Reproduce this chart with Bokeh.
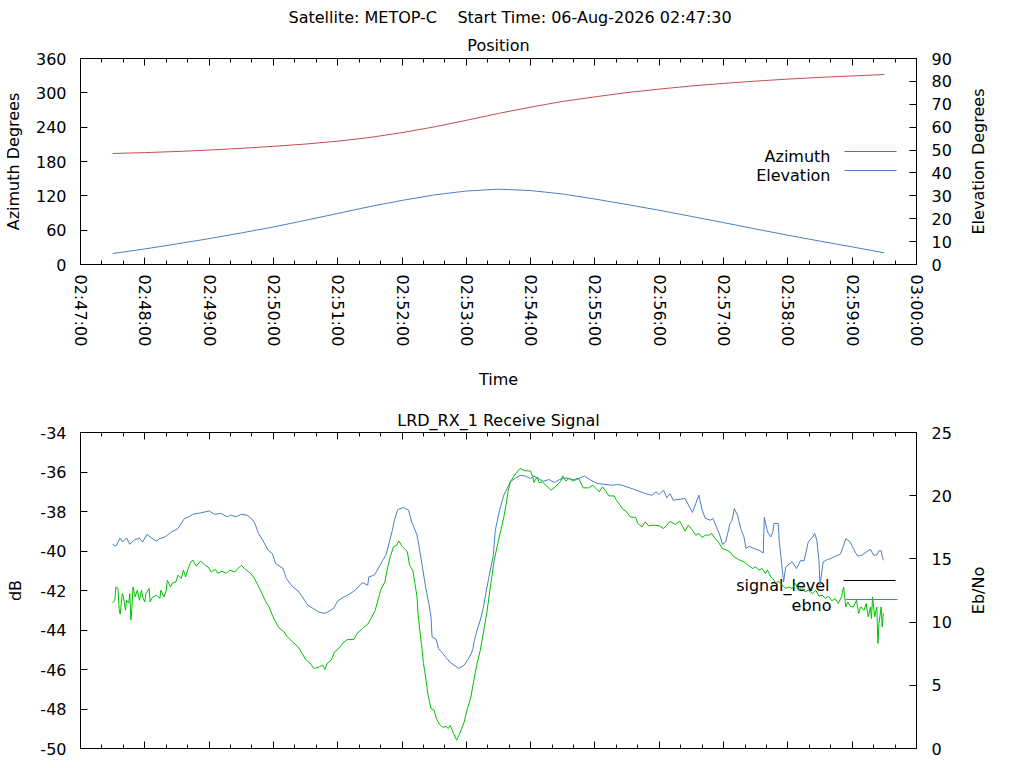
import math
import pandas as pd
from bokeh.plotting import figure
from bokeh.models import (Range1d, LinearAxis, DatetimeAxis, FixedTicker,
                          DatetimeTickFormatter, NumeralTickFormatter, Title, Label, Arrow)
from bokeh.layouts import column, row
from bokeh.embed import file_html
from bokeh.resources import INLINE

# ---------------- data ----------------
satellite = "METOP-C"
start_time_text = "06-Aug-2026 02:47:30"
pass_start = pd.Timestamp("2026-08-06 02:47:30")
axis_start = pd.Timestamp("2026-08-06 02:47:00")
axis_end = pd.Timestamp("2026-08-06 03:00:00")

# position samples: seconds after pass start
pos_t = [0, 30, 60, 90, 120, 150, 180, 210, 240, 270, 300, 330, 360,
         390, 420, 450, 480, 510, 540, 570, 600, 630, 660, 690, 720]
azimuth = [194.0, 195.5, 197.5, 200.0, 203.0, 206.5, 210.5, 215.5, 222.0, 230.5,
           240.5, 252.0, 264.0, 275.0, 285.0, 293.0, 300.5, 306.5, 312.0, 316.5,
           320.5, 324.0, 327.0, 329.5, 332.0]
elevation = [4.8, 6.8, 9.0, 11.3, 13.8, 16.4, 19.3, 22.3, 25.3, 28.0,
             30.4, 32.1, 32.9, 32.3, 30.8, 28.6, 26.2, 23.7, 21.0, 18.3,
             15.5, 12.8, 10.2, 7.7, 5.1]

# receive signal samples: seconds after pass start
sig_t = [0, 3, 7, 9, 13, 16, 20, 25, 28, 32,
         37, 41, 44, 49, 55, 61, 64, 67, 70, 75,
         82, 90, 95, 101, 107, 110, 115, 120, 126, 131,
         133, 136, 140, 145, 149, 152, 159, 162, 168, 173,
         177, 182, 187, 192, 198, 202, 206, 210, 215, 219,
         225, 231, 233, 238, 239, 244, 247, 252, 255, 259,
         261, 263, 266, 271, 276, 279, 281, 284, 286, 289,
         292, 295, 297, 298, 302, 304, 308, 311, 315, 323,
         328, 333, 336, 337, 340, 343, 346, 348, 352, 355,
         357, 361, 365, 368, 371, 376, 381, 385, 390, 393,
         398, 402, 407, 412, 417, 423, 427, 432, 440, 446,
         452, 458, 466, 471, 475, 480, 486, 497, 503, 507,
         510, 514, 517, 520, 523, 534, 541, 544, 547, 550,
         553, 558, 560, 562, 566, 569, 572, 576, 578, 580,
         583, 586, 589, 591, 594, 598, 603, 607, 608, 611,
         614, 616, 617, 621, 622, 626, 628, 631, 634, 638,
         642, 645, 647, 649, 653, 655, 657, 659, 660, 663,
         667, 670, 673, 679, 682, 684, 688, 691, 695, 699,
         703, 707, 710, 713, 715, 717, 719]
signal_level = [-39.66, -39.76, -39.34, -39.54, -39.34, -39.66, -39.45, -39.34, -39.54, -39.16,
                -39.37, -39.50, -39.37, -39.29, -39.03, -38.86, -38.61, -38.35, -38.30, -38.14,
                -38.07, -37.97, -38.14, -38.10, -38.27, -38.18, -38.27, -38.14, -38.20, -38.44,
                -38.64, -39.11, -39.45, -39.96, -40.13, -40.63, -40.89, -41.39, -41.82, -42.02,
                -42.32, -42.74, -42.91, -43.08, -43.16, -43.05, -42.91, -42.53, -42.35, -42.24,
                -42.04, -41.73, -41.60, -41.73, -41.31, -41.23, -40.97, -40.47, -40.21, -39.37,
                -38.95, -38.41, -37.90, -37.80, -37.93, -38.53, -38.78, -39.20, -39.82, -40.81,
                -41.82, -42.66, -43.34, -44.35, -44.48, -44.94, -45.19, -45.39, -45.65, -45.95,
                -45.78, -45.36, -45.00, -44.65, -44.01, -43.50, -42.83, -42.19, -41.06, -40.30,
                -38.95, -37.93, -37.17, -36.84, -36.50, -36.30, -36.16, -36.21, -36.33, -36.20,
                -36.36, -36.47, -36.38, -36.53, -36.38, -36.30, -36.36, -36.41, -36.20, -36.41,
                -36.58, -36.62, -36.67, -36.63, -36.67, -36.76, -36.87, -37.09, -37.18, -37.01,
                -37.14, -36.92, -37.31, -37.09, -37.43, -37.34, -38.05, -37.60, -37.17, -37.93,
                -38.35, -38.44, -38.35, -38.61, -39.11, -39.66, -39.54, -38.61, -38.44, -37.85,
                -38.19, -38.86, -39.29, -39.87, -39.76, -39.87, -39.96, -40.10, -38.30, -39.03,
                -39.29, -39.03, -38.61, -38.61, -39.54, -41.56, -40.81, -40.67, -40.55, -40.89,
                -40.47, -40.50, -40.05, -39.54, -39.29, -39.11, -39.45, -40.47, -41.73, -40.55,
                -40.43, -40.38, -40.30, -40.16, -39.71, -39.37, -39.54, -39.87, -40.26, -40.21,
                -40.05, -39.91, -40.21, -40.21, -39.99, -39.99, -40.47]

ebno_t = [0, 2, 3, 5, 6, 7, 9, 10, 12, 13,
          15, 16, 17, 18, 19, 21, 23, 25, 27, 28,
          30, 31, 34, 35, 37, 41, 44, 45, 48, 50,
          51, 54, 56, 59, 61, 64, 66, 68, 71, 73,
          75, 78, 82, 86, 89, 92, 96, 98, 102, 106,
          109, 114, 117, 120, 123, 127, 131, 134, 137, 140,
          143, 146, 149, 152, 155, 160, 163, 168, 173, 177,
          180, 184, 188, 193, 196, 198, 200, 204, 207, 210,
          215, 219, 225, 228, 233, 238, 241, 245, 248, 250,
          254, 256, 259, 262, 265, 267, 270, 273, 275, 277,
          280, 282, 284, 285, 288, 290, 292, 294, 297, 300,
          302, 305, 308, 311, 313, 315, 318, 321, 324, 328,
          331, 334, 337, 340, 343, 346, 349, 352, 356, 360,
          362, 365, 367, 369, 371, 374, 378, 380, 384, 390,
          392, 393, 396, 398, 401, 404, 409, 413, 418, 420,
          423, 426, 429, 433, 435, 437, 439, 444, 448, 451,
          454, 457, 460, 463, 468, 470, 473, 476, 479, 483,
          488, 490, 494, 497, 500, 505, 510, 514, 517, 520,
          525, 529, 532, 534, 537, 541, 544, 547, 550, 553,
          556, 559, 562, 565, 569, 573, 576, 579, 584, 589,
          593, 597, 600, 603, 606, 609, 611, 614, 617, 619,
          621, 625, 628, 631, 634, 637, 640, 643, 646, 649,
          653, 656, 659, 662, 665, 668, 671, 674, 677, 680,
          682, 684, 686, 688, 691, 694, 696, 698, 701, 703,
          705, 707, 708, 709, 711, 713, 714, 715, 717, 718,
          719]
ebno = [11.52, 11.73, 12.78, 12.66, 11.08, 10.63, 12.26, 12.05, 10.94, 11.73,
        11.50, 12.26, 10.15, 11.20, 12.78, 11.99, 12.52, 11.73, 12.52, 11.99,
        11.60, 12.26, 12.66, 11.60, 11.95, 12.13, 11.87, 12.52, 11.99, 12.52,
        13.31, 12.78, 13.10, 13.18, 13.71, 13.45, 14.11, 13.58, 14.37, 14.76,
        14.90, 14.42, 14.84, 14.50, 14.37, 13.97, 14.16, 13.85, 14.03, 13.85,
        14.11, 13.97, 14.24, 14.50, 14.24, 13.97, 13.63, 13.18, 12.66, 12.13,
        11.60, 11.20, 10.55, 10.02, 9.57, 9.22, 8.83, 8.43, 8.04, 7.50,
        7.04, 6.77, 6.33, 6.46, 6.59, 6.25, 6.72, 6.99, 7.64, 7.83,
        8.35, 8.62, 8.62, 9.10, 9.49, 9.83, 10.28, 10.94, 11.87, 12.52,
        13.18, 14.11, 15.16, 15.95, 16.08, 16.42, 16.00, 15.74, 15.55, 14.50,
        14.11, 13.05, 11.99, 10.55, 8.31, 6.72, 5.66, 4.35, 3.16, 3.03,
        2.37, 1.92, 1.66, 1.76, 1.58, 1.84, 1.19, 0.66, 1.23, 2.10,
        3.16, 3.96, 5.40, 6.72, 7.78, 9.22, 10.68, 12.52, 14.90, 16.48,
        17.19, 18.32, 19.25, 20.36, 21.09, 21.49, 21.94, 22.15, 21.99, 21.94,
        21.49, 21.04, 21.49, 21.04, 21.09, 20.83, 20.43, 20.70, 21.15, 21.57,
        21.15, 21.41, 21.15, 21.36, 21.36, 20.96, 20.62, 20.62, 20.83, 20.57,
        20.30, 20.70, 20.36, 19.98, 19.98, 19.64, 19.30, 18.93, 18.77, 18.32,
        18.28, 17.80, 17.53, 17.93, 17.61, 17.67, 17.61, 17.40, 17.67, 17.98,
        17.72, 17.98, 17.53, 17.19, 17.67, 17.27, 16.88, 17.01, 16.70, 16.88,
        16.88, 17.01, 16.61, 16.34, 15.82, 15.69, 15.55, 15.21, 14.95, 14.76,
        14.50, 14.24, 14.37, 14.11, 14.24, 13.85, 14.11, 13.58, 13.32, 13.05,
        13.25, 12.92, 12.66, 12.78, 12.66, 13.05, 12.52, 12.78, 12.39, 12.52,
        12.26, 12.52, 12.05, 12.13, 11.87, 12.05, 11.68, 11.87, 11.47, 12.00,
        12.78, 11.20, 11.60, 11.26, 11.20, 11.73, 10.68, 11.20, 10.94, 11.47,
        10.41, 11.20, 10.28, 12.00, 10.41, 11.20, 8.31, 9.89, 11.20, 9.62,
        10.68]

pos_labels = ["Azimuth", "Elevation"]
sig_labels = ["signal_level", "ebno"]

az_ticks = [0, 60, 120, 180, 240, 300, 360]
el_ticks = [0, 10, 20, 30, 40, 50, 60, 70, 80, 90]
db_ticks = [-50, -48, -46, -44, -42, -40, -38, -36, -34]
ebno_ticks = [0, 5, 10, 15, 20, 25]

# ---------------- style ----------------
FONT = "DejaVu Sans"
FS = "16px"
RED = "#c0504d"
BLUE = "#4a7fc0"
GREEN = "#00c000"
MAIN_W = 956      # width of each chart (frame 79..916 + right tick labels)
SIDE_W = 60       # strip on the right holding the right-hand axis titles

pos_x = [pass_start + pd.Timedelta(seconds=s) for s in pos_t]
sig_x = [pass_start + pd.Timedelta(seconds=s) for s in sig_t]
ebno_x = [pass_start + pd.Timedelta(seconds=s) for s in ebno_t]

epoch = pd.Timestamp("1970-01-01")
def ms(ts):
    return (ts - epoch).total_seconds() * 1000.0

total_s = int((axis_end - axis_start).total_seconds())
major_ms = [ms(axis_start + pd.Timedelta(seconds=s)) for s in range(0, total_s + 1, 60)]
minor_ms = [ms(axis_start + pd.Timedelta(seconds=s)) for s in range(0, total_s + 1, 20)]

def dt_formatter(fmt):
    return DatetimeTickFormatter(seconds=fmt, minsec=fmt, minutes=fmt, hourmin=fmt,
                                 hours=fmt, days=fmt, milliseconds=fmt,
                                 microseconds=fmt, months=fmt, years=fmt)

def style_axis(ax):
    ax.major_label_text_font = FONT
    ax.major_label_text_font_size = FS
    ax.major_label_text_color = "black"
    ax.axis_label_text_font = FONT
    ax.axis_label_text_font_size = FS
    ax.axis_label_text_font_style = "normal"
    ax.axis_label_text_color = "black"
    ax.axis_line_color = "black"
    ax.major_tick_line_color = "black"
    ax.minor_tick_line_color = "black"
    ax.major_tick_in = 7
    ax.major_tick_out = 0
    ax.minor_tick_in = 4
    ax.minor_tick_out = 0

def make_title(text, align="center", offset=0, standoff=0):
    return Title(text=text, align=align, offset=offset, standoff=standoff, text_font=FONT,
                 text_font_size=FS, text_font_style="normal", text_color="black")

def base_fig(height, top, bottom, y0, y1, y_ticks, y_label, y_label_standoff, left_fmt=None):
    p = figure(width=MAIN_W, height=height, x_range=Range1d(axis_start, axis_end),
               y_range=Range1d(y0, y1), output_backend="svg", toolbar_location=None, title=None,
               min_border_left=79, min_border_right=MAIN_W - 79 - 837,
               min_border_top=top, min_border_bottom=bottom,
               x_axis_location=None, y_axis_location=None)
    p.xgrid.visible = False
    p.ygrid.visible = False
    p.outline_line_color = "black"
    p.outline_line_width = 1
    p.background_fill_color = "white"
    p.border_fill_color = "white"

    bottom_ax = DatetimeAxis(ticker=FixedTicker(ticks=major_ms, minor_ticks=minor_ms),
                             formatter=dt_formatter("%H:%M:%S"))
    style_axis(bottom_ax)
    p.add_layout(bottom_ax, "below")

    top_ax = DatetimeAxis(ticker=FixedTicker(ticks=major_ms, minor_ticks=minor_ms),
                          formatter=dt_formatter(""))
    style_axis(top_ax)
    top_ax.major_label_text_font_size = "0px"
    top_ax.major_label_standoff = 0
    p.add_layout(top_ax, "above")

    left_ax = LinearAxis(ticker=FixedTicker(ticks=y_ticks), axis_label=y_label)
    if left_fmt is not None:
        left_ax.formatter = left_fmt
    style_axis(left_ax)
    left_ax.minor_tick_in = 0
    left_ax.major_label_standoff = 14
    left_ax.axis_label_standoff = y_label_standoff
    p.add_layout(left_ax, "left")
    return p, bottom_ax

def right_axis(p, name, ticks):
    ax = LinearAxis(y_range_name=name, ticker=FixedTicker(ticks=ticks))
    style_axis(ax)
    ax.minor_tick_in = 0
    ax.major_label_standoff = 15
    p.add_layout(ax, "right")
    return ax

def legend_entry(p, text, x_text, y_text, y_line, color):
    p.add_layout(Label(x=x_text, y=y_text, x_units="screen", y_units="screen", text=text,
                       text_align="right", text_baseline="alphabetic", text_font=FONT,
                       text_font_size=FS, text_color="black", level="underlay"))
    p.add_layout(Arrow(end=None, x_start=x_text + 14, y_start=y_line, x_end=x_text + 66,
                       y_end=y_line, start_units="screen", end_units="screen",
                       line_color=color, line_width=1))

# ---------------- top: position ----------------
p1, p1_bottom = base_fig(400, 58, 136, 0, 360, az_ticks, "Azimuth Degrees", 10)
p1.extra_y_ranges = {"elev": Range1d(0, 90)}
p1_bottom.axis_label = "Time"
p1_bottom.major_label_orientation = -math.pi / 2
p1_bottom.major_label_standoff = 10
p1_bottom.axis_label_standoff = 21
right_axis(p1, "elev", el_ticks)
p1.add_layout(make_title("Position", standoff=6.5), "above")
p1.add_layout(make_title("Satellite: %s\u00a0\u00a0\u00a0 Start Time: %s" % (satellite, start_time_text),
                         align="left", offset=208, standoff=6.5), "above")

p1.line(pos_x, azimuth, line_color=RED, line_width=1)
p1.line(pos_x, elevation, line_color=BLUE, line_width=1, y_range_name="elev")
legend_entry(p1, pos_labels[0], 750, 108, 113, RED)
legend_entry(p1, pos_labels[1], 750, 89, 94, BLUE)

# ---------------- bottom: receive signal ----------------
p2, p2_bottom = base_fig(360, 32, 12, -50, -34, db_ticks, "dB", 12, NumeralTickFormatter(format="0"))
p2.extra_y_ranges = {"ebno": Range1d(0, 25)}
p2_bottom.formatter = dt_formatter("")
p2_bottom.major_label_text_font_size = "0px"
p2_bottom.major_label_standoff = 0
right_axis(p2, "ebno", ebno_ticks)
p2.add_layout(make_title("LRD_RX_1 Receive Signal", standoff=5), "above")

legend_entry(p2, sig_labels[0], 749, 163, 168, "black")
legend_entry(p2, sig_labels[1], 751, 143, 149, BLUE)
p2.line(sig_x, signal_level, line_color=BLUE, line_width=1)
p2.line(ebno_x, ebno, line_color=GREEN, line_width=1, y_range_name="ebno")

# ---------------- right strip with the right-hand axis titles ----------------
side = figure(width=SIDE_W, height=760, x_range=Range1d(0, 1), y_range=Range1d(0, 1),
              output_backend="svg", toolbar_location=None, title=None,
              min_border=0, x_axis_location=None, y_axis_location=None)
side.xgrid.visible = False
side.ygrid.visible = False
side.outline_line_color = None
side.background_fill_color = "white"
side.border_fill_color = "white"
for text, cx, cy in [("Elevation Degrees", 977.5, 161), ("Eb/No", 978, 590)]:
    side.add_layout(Label(x=cx - MAIN_W, y=760 - cy, x_units="screen", y_units="screen",
                          text=text, angle=math.pi / 2, text_align="center",
                          text_baseline="middle", text_font=FONT, text_font_size=FS,
                          text_color="black"))

layout = row(column(p1, p2), side)
open("out.html", "w").write(file_html(layout, INLINE))
